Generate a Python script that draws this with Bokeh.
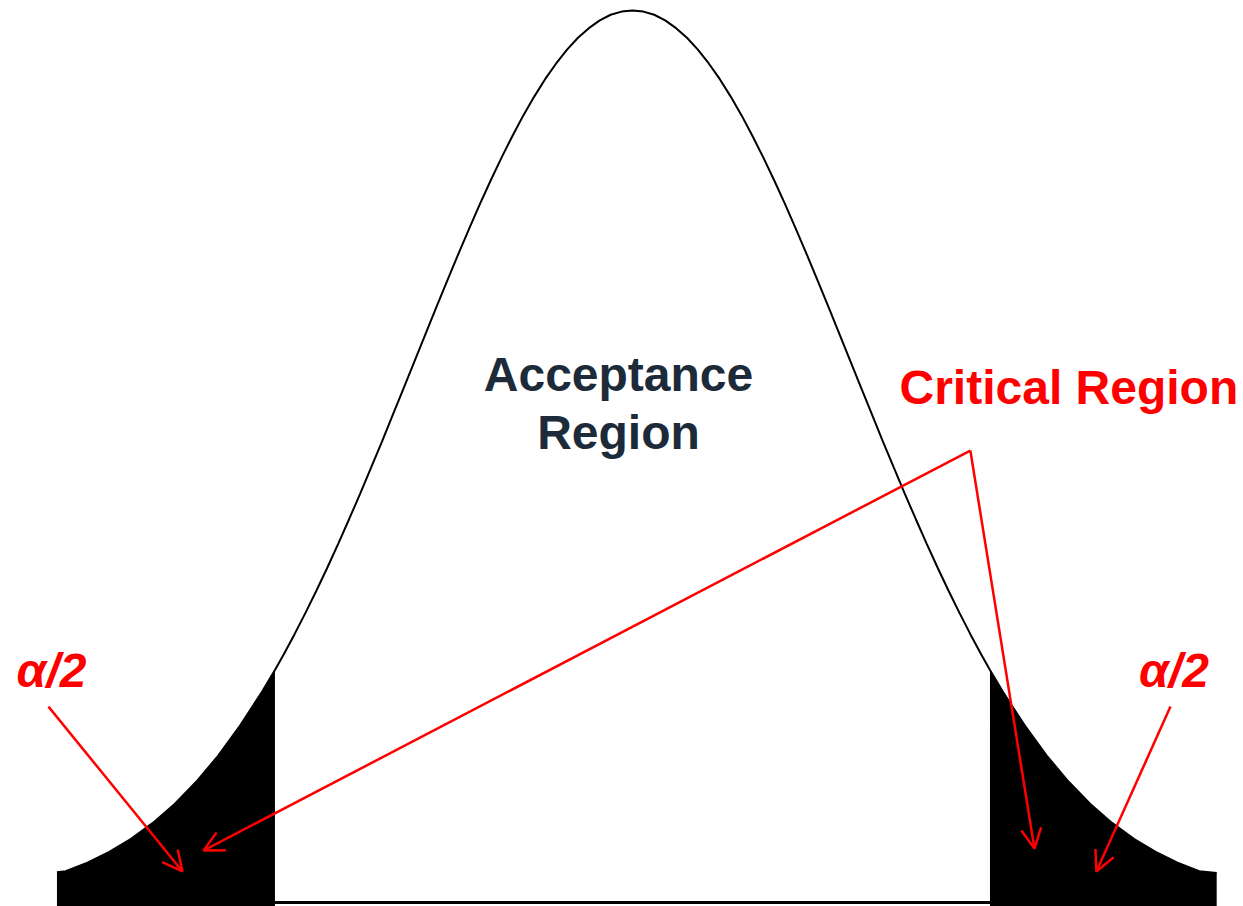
from bokeh.plotting import figure
from bokeh.models import Arrow, OpenHead, Range1d
from bokeh.core.properties import value
from bokeh.embed import file_html
from bokeh.resources import INLINE

# ---- data (standardised z vs. density) ----
z_vals = [-2.64, -2.6, -2.5, -2.4, -2.3, -2.2, -2.1, -2.0, -1.9, -1.8, -1.7, -1.64,
          -1.6, -1.55, -1.5, -1.45, -1.4, -1.35, -1.3, -1.25, -1.2, -1.15, -1.1, -1.05,
          -1.0, -0.95, -0.9, -0.85, -0.8, -0.75, -0.7, -0.65, -0.6, -0.55, -0.5, -0.45,
          -0.4, -0.35, -0.3, -0.25, -0.2, -0.15, -0.1, -0.05, 0.0,
          0.05, 0.1, 0.15, 0.2, 0.25, 0.3, 0.35, 0.4, 0.45, 0.5, 0.55, 0.6, 0.65,
          0.7, 0.75, 0.8, 0.85, 0.9, 0.95, 1.0, 1.05, 1.1, 1.15, 1.2, 1.25, 1.3,
          1.35, 1.4, 1.45, 1.5, 1.55, 1.6, 1.64, 1.7, 1.8, 1.9, 2.0, 2.1, 2.2,
          2.3, 2.4, 2.5, 2.6, 2.68]
density = [0.0135, 0.0140, 0.0178, 0.0226, 0.0285, 0.0356, 0.0441, 0.0541, 0.0657, 0.0791, 0.0941, 0.1040,
           0.1109, 0.1200, 0.1295, 0.1394, 0.1497, 0.1604, 0.1714, 0.1826, 0.1942, 0.2059, 0.2179, 0.2299,
           0.2420, 0.2541, 0.2661, 0.2780, 0.2897, 0.3011, 0.3123, 0.3230, 0.3332, 0.3429, 0.3521, 0.3605,
           0.3683, 0.3752, 0.3814, 0.3867, 0.3910, 0.3945, 0.3970, 0.3984, 0.3989,
           0.3984, 0.3970, 0.3945, 0.3910, 0.3867, 0.3814, 0.3752, 0.3683, 0.3605, 0.3521, 0.3429, 0.3332, 0.3230,
           0.3123, 0.3011, 0.2897, 0.2780, 0.2661, 0.2541, 0.2420, 0.2299, 0.2179, 0.2059, 0.1942, 0.1826, 0.1714,
           0.1604, 0.1497, 0.1394, 0.1295, 0.1200, 0.1109, 0.1040, 0.0941, 0.0791, 0.0657, 0.0541, 0.0441, 0.0356,
           0.0285, 0.0226, 0.0178, 0.0140, 0.0132]
z_crit = 1.64

# annotation anchors (data units)
accept_text = ["Acceptance", "Region"]
accept_x = [-0.064, -0.064]
accept_y = [0.2361, 0.2102]
critical_text = ["Critical Region"]
critical_x = [2.002]
critical_y = [0.2303]
alpha_text = ["α/2", "α/2"]
alpha_x = [-2.665, 2.484]
alpha_y = [0.1037, 0.1037]

alpha_arrow_start_x = [-2.679, 2.468]
alpha_arrow_start_y = [0.0876, 0.0876]
alpha_arrow_end_x = [-2.064, 2.128]
alpha_arrow_end_y = [0.0139, 0.0139]
crit_apex = (1.550, 0.2021)
crit_tips_x = [-1.968, 1.844]
crit_tips_y = [0.0232, 0.0241]

Y0, Y1 = -0.00179, 0.40337

p = figure(width=1243, height=906, output_backend="svg", toolbar_location=None,
           x_range=Range1d(-2.899, 2.803), y_range=Range1d(Y0, Y1),
           min_border=0, outline_line_color=None, background_fill_color="white")
p.xaxis.visible = False
p.yaxis.visible = False
p.grid.visible = False

# tails
lz = [z for z in z_vals if z <= -z_crit]
ld = [d for z, d in zip(z_vals, density) if z <= -z_crit]
rz = [z for z in z_vals if z >= z_crit]
rd = [d for z, d in zip(z_vals, density) if z >= z_crit]
p.varea(x=lz, y1=[Y0] * len(lz), y2=ld, fill_color="black")
p.varea(x=rz, y1=[Y0] * len(rz), y2=rd, fill_color="black")

# curve
p.line(z_vals, density, line_color="black", line_width=2)
# baseline under acceptance region
p.line([-z_crit, z_crit], [0, 0], line_color="black", line_width=3)

# texts
p.text(x=accept_x, y=accept_y, text=accept_text, text_align="center", text_baseline="middle",
       text_font=value("Liberation Sans"), text_font_style="bold", text_font_size="48px",
       text_color="#1c2a39")
p.text(x=critical_x, y=critical_y, text=critical_text, text_align="center", text_baseline="middle",
       text_font=value("Liberation Sans"), text_font_style="bold", text_font_size="48px",
       text_color="#ff0000")
p.text(x=alpha_x, y=alpha_y, text=alpha_text, text_align="center", text_baseline="middle",
       text_font=value("Liberation Sans"), text_font_style="bold italic", text_font_size="48px",
       text_color="#ff0000")

# arrows
for sx, sy, ex, ey in zip(alpha_arrow_start_x, alpha_arrow_start_y, alpha_arrow_end_x, alpha_arrow_end_y):
    p.add_layout(Arrow(end=OpenHead(size=20, line_color="#ff0000", line_width=2.5),
                       x_start=sx, y_start=sy, x_end=ex, y_end=ey,
                       line_color="#ff0000", line_width=2.5))
for tx, ty in zip(crit_tips_x, crit_tips_y):
    p.add_layout(Arrow(end=OpenHead(size=20, line_color="#ff0000", line_width=2.5),
                       x_start=crit_apex[0], y_start=crit_apex[1], x_end=tx, y_end=ty,
                       line_color="#ff0000", line_width=2.5))

open("out.html", "w").write(file_html(p, INLINE))
